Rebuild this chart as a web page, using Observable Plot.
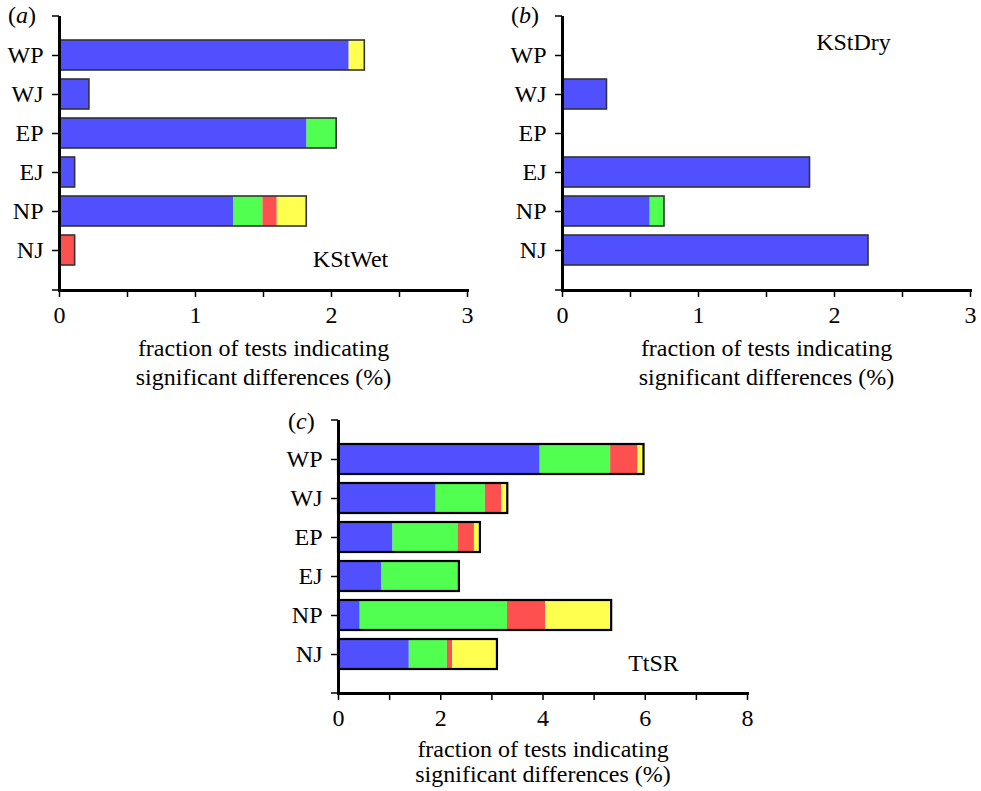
<!DOCTYPE html>
<html>
<head>
<meta charset="utf-8">
<script src="https://cdn.jsdelivr.net/npm/d3@7"></script>
<script src="https://cdn.jsdelivr.net/npm/@observablehq/plot@0.6"></script>
<style>
  html, body { margin: 0; padding: 0; background: #fff; }
  #root { position: relative; width: 981px; height: 791px; font-family: 'Liberation Serif', 'Times New Roman', serif; }
  .panel { position: absolute; }
  .panel svg, .panel svg text { font-family: 'Liberation Serif', 'Times New Roman', serif !important; }
  .plabel { position: absolute; font-size: 24px; line-height: 24px; font-family: 'Liberation Serif', 'Times New Roman', serif; color: #000; }
</style>
</head>
<body>
<div id="root"></div>
<script>
// ---------- data ----------
const categories = ["WP", "WJ", "EP", "EJ", "NP", "NJ"];
const segments = ["s1", "s2", "s3", "s4"];
const segmentColors = ["#5050ff", "#50ff50", "#ff5050", "#ffff50"];

// KStWet (panel a): segment widths per category
const wetS1 = [2.13, 0.22, 1.82, 0.115, 1.28, 0];
const wetS2 = [0, 0, 0.218, 0, 0.216, 0];
const wetS3 = [0, 0, 0, 0, 0.105, 0.115];
const wetS4 = [0.115, 0, 0, 0, 0.217, 0];

// KStDry (panel b)
const dryS1 = [0, 0.327, 0, 1.82, 0.645, 2.25];
const dryS2 = [0, 0, 0, 0, 0.105, 0];
const dryS3 = [0, 0, 0, 0, 0, 0];
const dryS4 = [0, 0, 0, 0, 0, 0];

// TtSR (panel c)
const ttS1 = [3.945, 1.91, 1.066, 0.85, 0.425, 1.385];
const ttS2 = [1.378, 0.963, 1.273, 1.515, 2.88, 0.745];
const ttS3 = [0.535, 0.32, 0.32, 0, 0.745, 0.104];
const ttS4 = [0.118, 0.118, 0.117, 0, 1.293, 0.875];

const xTicksAB = [0, 0.5, 1, 1.5, 2, 2.5, 3];
const xLabelsAB = [0, 1, 2, 3];
const xTicksC = [0, 1, 2, 3, 4, 5, 6, 7, 8];
const xLabelsC = [0, 2, 4, 6, 8];
const xTitle = "fraction of tests indicating\nsignificant differences (%)";

// ---------- helpers ----------
function rowsOf(series) {
  const rows = [];
  categories.forEach((c, i) => {
    series.forEach((s, k) => rows.push({cat: c, seg: segments[k], value: s[i]}));
  });
  return rows;
}
function totalsOf(series) {
  return categories.map((c, i) => ({cat: c, total: d3.sum(series, s => s[i])})).filter(d => d.total > 0);
}

const font = "'Liberation Serif', 'Times New Roman', serif";
const fs = 24;

function panel({series, xDomain, xTicks, xLabels, width, height, margins, outline, outlineWidth, name, nameAnchor, nameDx, nameDy, titleLineHeight}) {
  const [mt, mr, mb, ml] = margins;
  const plot = Plot.plot({
    width, height,
    marginTop: mt, marginRight: mr, marginBottom: mb, marginLeft: ml,
    style: `font-family: ${font}; font-size: ${fs}px; color: #000; background: #fff; overflow: visible;`,
    x: {domain: xDomain},
    y: {type: "band", domain: categories, paddingInner: 0.22, paddingOuter: 0.61},
    color: {domain: segments, range: segmentColors},
    marks: [
      Plot.barX(rowsOf(series), {x: "value", y: "cat", fill: "seg"}),
      Plot.barX(totalsOf(series), {x: "total", y: "cat", fill: "none", stroke: outline, strokeWidth: outlineWidth}),
      Plot.axisX({ticks: xTicks, tickFormat: d => xLabels.includes(d) ? String(d) : "", tickSize: 7, tickPadding: 8, strokeWidth: 1.5, label: null, fontSize: fs, fontFamily: font}),
      Plot.axisY({tickSize: 7, tickPadding: 9, strokeWidth: 1.5, label: null, fontSize: fs, fontFamily: font}),
      Plot.ruleX([0], {stroke: "#000", strokeWidth: 3}),
      Plot.frame({anchor: "bottom", stroke: "#000", strokeWidth: 3}),
      Plot.text([xTitle], {text: d => d, frameAnchor: "bottom", dy: 46, lineAnchor: "top", lineHeight: titleLineHeight, fontSize: fs, fontFamily: font}),
      Plot.text([name], {text: d => d, frameAnchor: nameAnchor, dx: nameDx, dy: nameDy, textAnchor: "middle", lineAnchor: "middle", fontSize: fs, fontFamily: font})
    ]
  });
  // end ticks at the top and bottom of the y axis
  const svg = d3.select(plot.tagName.toLowerCase() === "svg" ? plot : plot.querySelector("svg"));
  const yr = plot.scale("y").range;
  const ends = [d3.min(yr), d3.max(yr)];
  svg.append("g").selectAll("line").data(ends).join("line")
    .attr("x1", ml - 7).attr("x2", ml).attr("y1", d => d).attr("y2", d => d)
    .attr("stroke", "#000").attr("stroke-width", 1.5);
  return plot;
}

const root = document.getElementById("root");
function place(node, left, top) {
  const div = document.createElement("div");
  div.className = "panel";
  div.style.left = left + "px";
  div.style.top = top + "px";
  div.appendChild(node);
  root.appendChild(div);
}
function label(letter, left, top) {
  const div = document.createElement("div");
  div.className = "plabel";
  div.style.left = left + "px";
  div.style.top = top + "px";
  div.innerHTML = "(<i>" + letter + "</i>)";
  root.appendChild(div);
}

place(panel({
  series: [wetS1, wetS2, wetS3, wetS4], xDomain: [0, 3], xTicks: xTicksAB, xLabels: xLabelsAB,
  width: 490, height: 395, margins: [16, 23, 105, 59],
  outline: "#333", outlineWidth: 1.6, name: "KStWet", nameAnchor: "bottom-right", nameDx: -117, nameDy: -31,
  titleLineHeight: 1.17
}), 0, 0);

place(panel({
  series: [dryS1, dryS2, dryS3, dryS4], xDomain: [0, 3], xTicks: xTicksAB, xLabels: xLabelsAB,
  width: 491, height: 395, margins: [16, 11, 105, 72],
  outline: "#333", outlineWidth: 1.6, name: "KStDry", nameAnchor: "top-right", nameDx: -117, nameDy: 26,
  titleLineHeight: 1.17
}), 490, 0);

place(panel({
  series: [ttS1, ttS2, ttS3, ttS4], xDomain: [0, 8], xTicks: xTicksC, xLabels: xLabelsC,
  width: 480, height: 391, margins: [20, 13, 98, 58],
  outline: "#000", outlineWidth: 2.2, name: "TtSR", nameAnchor: "bottom-right", nameDx: -94, nameDy: -30,
  titleLineHeight: 1.03
}), 280, 400);

label("a", 8, 3);
label("b", 511, 3);
label("c", 288, 409);
</script>
</body>
</html>
